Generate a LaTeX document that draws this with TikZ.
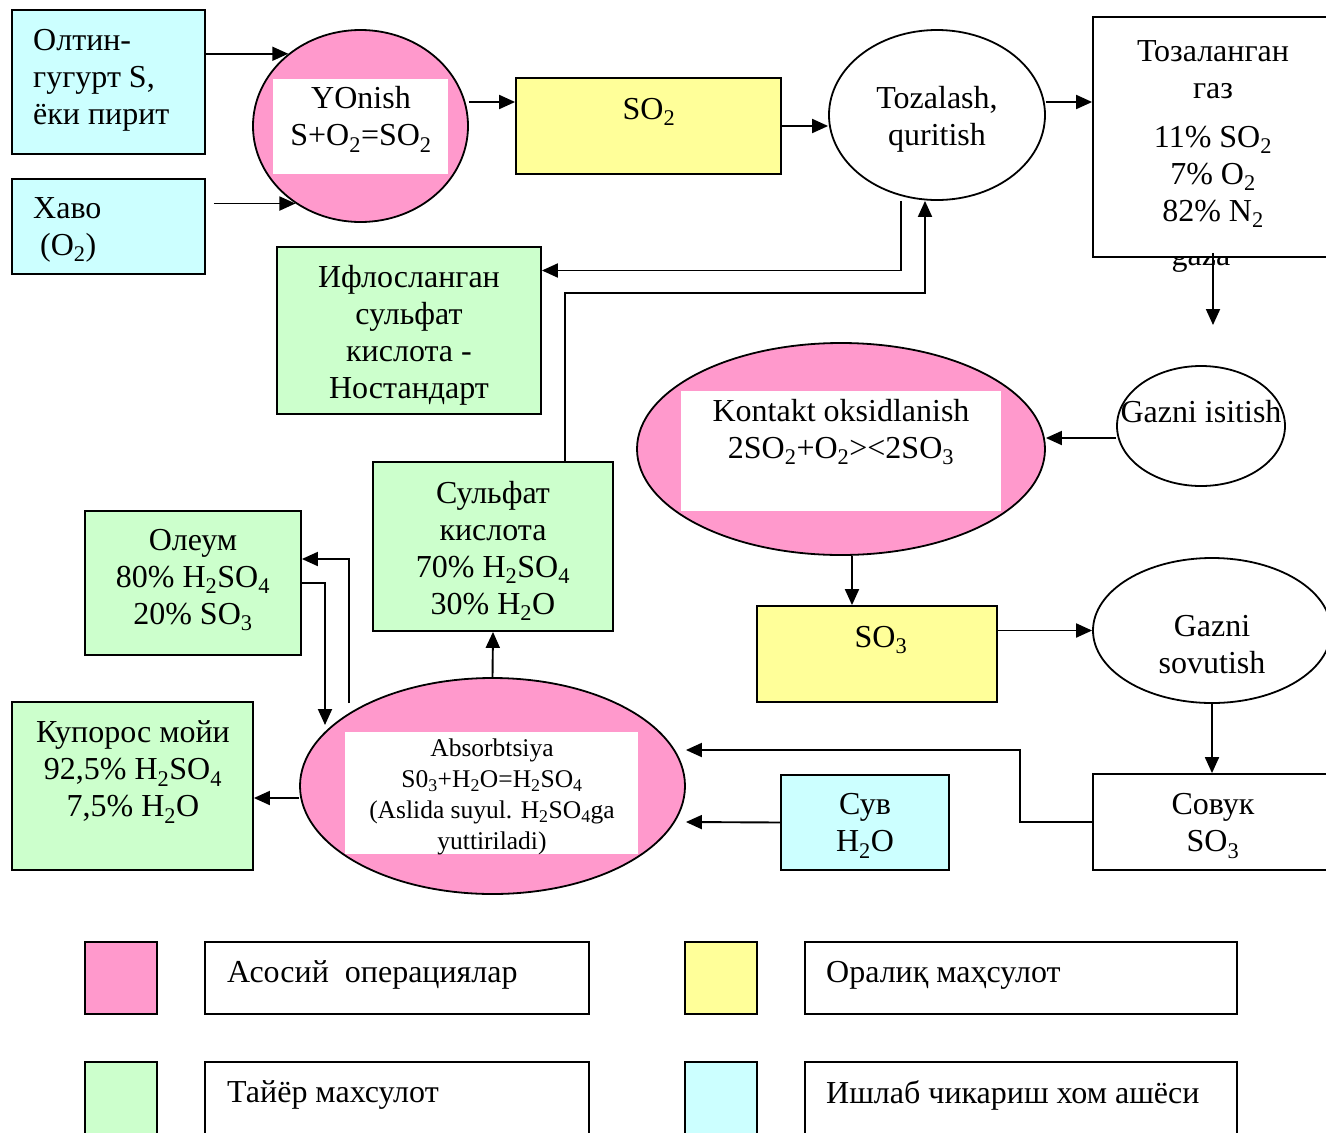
\documentclass[tikz,border=0pt]{standalone}
\usepackage{fontspec}
\setmainfont{Liberation Serif}
\usetikzlibrary{shapes.geometric,arrows.meta}
\definecolor{oppink}{HTML}{FF99CC}
\definecolor{midyellow}{HTML}{FFFF99}
\definecolor{prodgreen}{HTML}{CCFFCC}
\definecolor{rawcyan}{HTML}{CCFFFF}
\newcommand{\sbs}[1]{\textsubscript{#1}}
\begin{document}
\begin{tikzpicture}[x=1pt,y=-1pt,
  frame/.style={draw,line width=1.8pt,inner sep=0pt,rectangle},
  oval/.style={draw,line width=1.8pt,inner sep=0pt,ellipse},
  pane/.style={fill=white,inner sep=0pt,rectangle},
  txt/.style={font=\fontsize{32}{37}\selectfont,align=center,inner sep=0pt},
  smalltxt/.style={font=\fontsize{25.5}{31}\selectfont,align=center,inner sep=0pt},
  ltxt/.style={font=\fontsize{32}{37}\selectfont,align=left,inner sep=0pt,anchor=west},
  arr/.style={line width=1.9pt,-{Triangle[length=16pt,width=14pt]}}]

\clip (0,0) rectangle (1326,1133);
\fill[white] (0,0) rectangle (1326,1133);

% raw materials
\node[frame,fill=rawcyan,minimum width=193pt,minimum height=144pt] (olt) at (108.5,82) {};
\node[ltxt] (olt-t) at (33,80) {Олтин-\\гугурт S,\\ёки пирит};
\node[frame,fill=rawcyan,minimum width=193pt,minimum height=95pt] (havo) at (108.5,226.5) {};
\node[ltxt] (havo-t) at (33,230) {Хаво\\\hspace*{7pt}(O\sbs{2})};

% burning
\node[oval,fill=oppink,minimum width=215pt,minimum height=192pt] (yonish) at (360.5,126) {};
\node[pane,minimum width=175pt,minimum height=95pt] (yonish-p) at (360.5,126.5) {};
\node[txt] (yonish-t) at (361,119.5) {YOnish\\S+O\sbs{2}=SO\sbs{2}};

% SO2
\node[frame,fill=midyellow,minimum width=265pt,minimum height=96pt] (so2) at (648.5,126) {};
\node[txt] (so2-t) at (649,112) {SO\sbs{2}};

% cleaning and drying
\node[oval,fill=white,minimum width=216pt,minimum height=170pt] (tozal) at (937,115) {};
\node[txt] (tozal-t) at (937,119) {Tozalash,\\quritish};

% cleaned gas (the label below is partly covered by the box)
\node[txt,anchor=base] (gaza) at (1201,265) {gaza};
\node[frame,fill=white,minimum width=252pt,minimum height=240pt] (toz) at (1219,137) {};
\node[txt] (toz-t1) at (1213,70) {Тозаланган\\газ};
\node[txt] (toz-t2) at (1213,177) {11\% SO\sbs{2}\\7\% O\sbs{2}\\82\% N\sbs{2}};
\coordinate (tozdown) at (1213,325);

% impure acid
\node[frame,fill=prodgreen,minimum width=264pt,minimum height=167pt] (ifl) at (409,330.5) {};
\node[txt] (ifl-t) at (409,335) {Ифлосланган\\сульфат\\кислота -\\Ностандарт};

% gas heating
\node[oval,fill=white,minimum width=168pt,minimum height=120pt] (isit) at (1201,426) {};
\node[txt] (isit-t) at (1201,412) {Gazni isitish};

% contact oxidation
\node[oval,fill=oppink,minimum width=408pt,minimum height=212pt] (kont) at (841,449) {};
\node[pane,minimum width=320pt,minimum height=120pt] (kont-p) at (841,451) {};
\node[txt] (kont-t) at (841,432) {Kontakt oksidlanish\\2SO\sbs{2}+O\sbs{2}><2SO\sbs{3}};

% SO3
\node[frame,fill=midyellow,minimum width=240pt,minimum height=96pt] (so3) at (877,654) {};
\node[txt] (so3-t) at (881,640) {SO\sbs{3}};

% gas cooling
\node[oval,fill=white,minimum width=238pt,minimum height=145pt] (sov) at (1212,630.5) {};
\node[txt] (sov-t) at (1212,645) {Gazni\\sovutish};

% cold SO3
\node[frame,fill=white,minimum width=252pt,minimum height=96pt] (sovuk) at (1219,822) {};
\node[txt] (sovuk-t) at (1213,826) {Совук\\SO\sbs{3}};

% water
\node[frame,fill=rawcyan,minimum width=168pt,minimum height=95pt] (suv) at (865,822.5) {};
\node[txt] (suv-t) at (865,826) {Сув\\H\sbs{2}O};

% absorption
\node[oval,fill=oppink,minimum width=385pt,minimum height=216pt] (absb) at (492.5,786) {};
\node[pane,minimum width=293pt,minimum height=122pt] (absb-p) at (491.5,793) {};
\node[smalltxt] (absb-t) at (492,797) {Absorbtsiya\\S0\sbs{3}+H\sbs{2}O=H\sbs{2}SO\sbs{4}\\(Aslida suyul. H\sbs{2}SO\sbs{4}ga\\yuttiriladi)};
\coordinate (absup) at (349,703);
\coordinate (absin) at (325,725);

% sulphuric acid
\node[frame,fill=prodgreen,minimum width=240pt,minimum height=169pt] (sulf) at (493,546.5) {};
\node[txt] (sulf-t) at (493,551) {Сульфат\\кислота\\70\% H\sbs{2}SO\sbs{4}\\30\% H\sbs{2}O};

% oleum
\node[frame,fill=prodgreen,minimum width=216pt,minimum height=144pt] (ole) at (193,583) {};
\node[txt] (ole-t) at (193,580) {Олеум\\80\% H\sbs{2}SO\sbs{4}\\20\% SO\sbs{3}};

% vitriol oil
\node[frame,fill=prodgreen,minimum width=241pt,minimum height=168pt] (kup) at (132.5,786) {};
\node[txt] (kup-t) at (133,772) {Купорос мойи\\92,5\% H\sbs{2}SO\sbs{4}\\7,5\% H\sbs{2}O};

% connectors
\draw[arr] (olt.east |- yonish.135) -- (yonish.135);
\draw[arr] ([xshift=8pt]havo.east |- yonish.230) -- (yonish.230);
\draw[arr] ([yshift=24pt]yonish.east) -- ([yshift=24pt]so2.west);
\draw[arr] (so2.east) -- (so2.east -| tozal.west);
\draw[arr] ([yshift=13pt]tozal.east) -- ([yshift=13pt]tozal.east -| toz.west);
\draw[arr] ([xshift=-6pt,yshift=5pt]toz.south) -- (tozdown);
\draw[arr] ([yshift=-12pt]isit.west) -- ([yshift=-12pt]isit.west -| kont.east);
\draw[arr] ([xshift=11pt]kont.south) -- ([xshift=11pt]kont.south |- so3.north);
\draw[arr] (so3.east |- sov.west) -- (sov.west);
\draw[arr] (sov.south) -- (sov.south |- sovuk.north);
\draw[arr] (sovuk.west) -- ++(-72,0) |- ([yshift=36pt]absb.east);
\draw[arr] (suv.west) -- ([yshift=-36pt]absb.east);
\draw[arr] ([yshift=-12pt]absb.west) -- ([yshift=-12pt]kup.east);
\draw[arr] (absb.north) -- (sulf.south);
\draw[arr] ([xshift=72pt]sulf.north) -- ++(0,-168) -| ([xshift=-12pt]tozal.south);
\draw[arr] ([xshift=-36pt]tozal.south) |- ([yshift=60pt]ifl.east);
\draw[arr] (absup) |- ([yshift=24pt]ole.east);
\draw[arr] (ole.east) -| (absin);

% legend
\node[frame,fill=oppink,minimum width=72pt,minimum height=72pt] (lg1) at (121,978) {};
\node[frame,fill=white,minimum width=384pt,minimum height=72pt] (lb1) at (397,978) {};
\node[ltxt] (lt1) at (227,975) {Асосий~~операциялар};
\node[frame,fill=midyellow,minimum width=72pt,minimum height=72pt] (lg2) at (721,978) {};
\node[frame,fill=white,minimum width=432pt,minimum height=72pt] (lb2) at (1021,978) {};
\node[ltxt] (lt2) at (826,975) {Оралиқ маҳсулот};
\node[frame,fill=prodgreen,minimum width=72pt,minimum height=80pt] (lg3) at (121,1102) {};
\node[frame,fill=white,minimum width=384pt,minimum height=80pt] (lb3) at (397,1102) {};
\node[ltxt] (lt3) at (227,1095) {Тайёр махсулот};
\node[frame,fill=rawcyan,minimum width=72pt,minimum height=80pt] (lg4) at (721,1102) {};
\node[frame,fill=white,minimum width=432pt,minimum height=80pt] (lb4) at (1021,1102) {};
\node[ltxt] (lt4) at (826,1095) {Ишлаб чикариш хом ашёси};
\end{tikzpicture}
\end{document}
